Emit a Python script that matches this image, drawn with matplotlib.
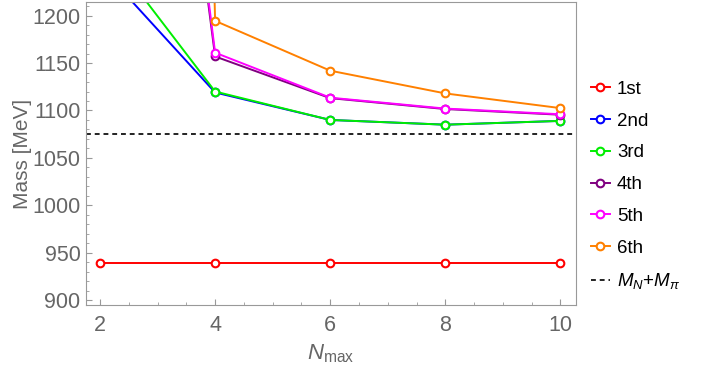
import numpy as np
import matplotlib.pyplot as plt
from matplotlib.ticker import MultipleLocator

plt.rcParams['font.family'] = ['Liberation Sans', 'DejaVu Sans']
plt.rcParams['mathtext.fontset'] = 'custom'
plt.rcParams['mathtext.rm'] = 'Liberation Sans'
plt.rcParams['mathtext.it'] = 'Liberation Sans:italic'

# data
nmax = [2, 4, 6, 8, 10]
labels = ['1st', '2nd', '3rd', '4th', '5th', '6th']
colors = ['#ff0000', '#0000ff', '#00ee00', '#800080', '#ff00ff', '#ff8000']
m1 = [938.9, 938.9, 938.9, 938.9, 938.9]
m2 = [1252, 1119, 1090, 1085, 1089]
m3 = [1279, 1120, 1090, 1085, 1089]
m4 = [2100, 1157, 1113, 1101.5, 1095.5]
m5 = [2130, 1161, 1113.5, 1102, 1096]
m6 = [6000, 1194.6, 1142, 1118, 1102.5]
threshold = 1075.5

series = [m1, m2, m3, m4, m5, m6]

fig = plt.figure(figsize=(7.08, 3.68), dpi=100)
ax = fig.add_axes([0.1215, 0.1712, 0.692, 0.8234])

for ys, lab, c in zip(series, labels, colors):
    ax.plot(nmax, ys, '-o', color=c, lw=1.4, ms=5.5, mfc='white', mec=c,
            mew=1.5, label=lab)
ax.axhline(threshold, color='#222222', ls=(0, (2.5, 2)), lw=1.4,
           label=r'$M_N$+$M_\pi$')

ax.set_xlim(1.757, 10.27)
ax.set_ylim(894.7, 1214.5)
ax.xaxis.set_major_locator(MultipleLocator(2))
ax.xaxis.set_minor_locator(MultipleLocator(0.5))
ax.yaxis.set_major_locator(MultipleLocator(50))
ax.yaxis.set_minor_locator(MultipleLocator(10))

gray = '#666666'
for s in ax.spines.values():
    s.set_color('#999999')
ax.tick_params(which='both', direction='in', colors='#999999',
               labelcolor=gray, labelsize=15.5)
ax.tick_params(which='major', length=4)
ax.tick_params(which='minor', length=2.5)
ax.tick_params(axis='x', pad=7)
ax.tick_params(axis='y', pad=4)

ax.set_ylabel('Mass [MeV]', color=gray, fontsize=15, labelpad=0)
ax.set_xlabel(r'$N_{\mathrm{max}}$', color=gray, fontsize=16, labelpad=5)

leg = ax.legend(loc='upper left', bbox_to_anchor=(1.015, 0.765), frameon=False,
                fontsize=13.5, handlelength=1.0, handletextpad=0.4,
                labelspacing=0.78, borderaxespad=0)

plt.savefig('out.png', dpi=100)
